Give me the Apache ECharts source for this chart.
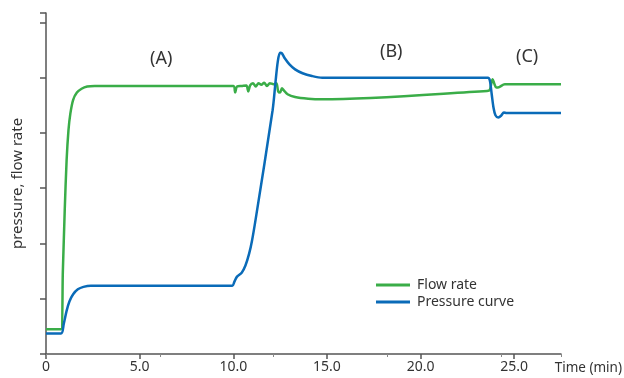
<!DOCTYPE html>
<html>
<head>
<meta charset="utf-8">
<script src="https://cdn.jsdelivr.net/npm/echarts@6/dist/echarts.min.js"></script>
<style>
  html, body { margin: 0; padding: 0; background: #fff; }
  #chart { width: 624px; height: 378px; }
</style>
</head>
<body>
<div id="chart"></div>
<script>
// time axis (min)
var xTicks = ['0', '5.0', '10.0', '15.0', '20.0', '25.0'];

// flow rate trace
var flowTime = [0, 0.8, 0.9, 1.0, 1.1, 1.2, 1.3, 1.45, 1.65, 1.9, 2.2, 2.6,
    10.0, 10.1, 10.2, 10.45, 10.7, 10.8, 10.9, 11.05, 11.2, 11.35, 11.5, 11.65, 11.8, 11.95, 12.15, 12.3,
    12.4, 12.5, 12.6, 12.7, 12.9, 13.3, 14.0, 14.75,
    23.55, 23.7, 23.78, 23.85, 23.95, 24.05, 24.2, 24.5, 27.5];
var flowVal = [0.45, 0.45, 1.5, 2.6, 3.5, 4.05, 4.35, 4.6, 4.73, 4.8, 4.84, 4.85,
    4.85, 4.73, 4.84, 4.85, 4.86, 4.75, 4.86, 4.9, 4.84, 4.9, 4.87, 4.91, 4.85, 4.9, 4.88, 4.9,
    4.75, 4.73, 4.81, 4.77, 4.7, 4.65, 4.62, 4.61,
    4.76, 4.78, 4.9, 4.97, 4.88, 4.82, 4.83, 4.88, 4.88];

// pressure trace
var pressTime = [0, 0.8, 0.95, 1.1, 1.25, 1.45, 1.7, 2.0, 2.4,
    9.95, 10.05, 10.2, 10.45, 10.65, 10.85, 11.0, 11.2, 12.1, 12.25, 12.38, 12.5, 12.6, 12.75,
    13.0, 13.3, 13.7, 14.2, 14.75,
    23.6, 23.7, 23.8, 23.9, 24.0, 24.15, 24.3, 24.45, 24.6, 27.5];
var pressVal = [0.37, 0.37, 0.55, 0.78, 0.95, 1.08, 1.17, 1.215, 1.235,
    1.235, 1.3, 1.40, 1.47, 1.6, 1.82, 2.05, 2.45, 4.41, 4.9, 5.3, 5.45, 5.44, 5.35,
    5.24, 5.15, 5.08, 5.03, 5.0,
    5.0, 4.95, 4.7, 4.45, 4.32, 4.28, 4.31, 4.37, 4.36, 4.36];

var green = '#3aad48';
var blue = '#0a6bb8';
var font = 'Noto Sans';

function zip(a, b) {
    return a.map(function (v, i) { return [v, b[i]]; });
}

var chart = echarts.init(document.getElementById('chart'));
chart.setOption({
    animation: false,
    grid: { left: 46, right: 63, top: 13, bottom: 24 },
    xAxis: [
        {
            type: 'value',
            min: 0,
            max: 27.5,
            interval: 5,
            axisLine: { onZero: false, lineStyle: { color: '#555', width: 1.5 } },
            axisTick: { length: 5, lineStyle: { color: '#555', width: 1.5 } },
            axisLabel: {
                color: '#333', fontSize: 14, fontFamily: font, margin: 6,
                showMaxLabel: false,
                formatter: function (v) { return xTicks[Math.round(v / 5)] || ''; }
            },
            splitLine: { show: false }
        },
        {
            type: 'value',
            position: 'bottom',
            min: 0,
            max: 27.5,
            interval: 6.08,
            axisLine: { show: false },
            axisTick: { length: 3, lineStyle: { color: '#888', width: 1 } },
            axisLabel: { show: false },
            splitLine: { show: false }
        }
    ],
    yAxis: {
        type: 'value',
        min: 0,
        max: 6.17,
        interval: 1,
        name: 'pressure, flow rate',
        nameLocation: 'middle',
        nameGap: 21,
        nameTextStyle: { color: '#333', fontSize: 15, fontFamily: font },
        axisLine: { show: true, lineStyle: { color: '#555', width: 1.5 } },
        axisTick: { show: true, length: 6, lineStyle: { color: '#555', width: 1.5 } },
        axisLabel: { show: false },
        splitLine: { show: false }
    },
    legend: {
        orient: 'vertical',
        left: 371,
        top: 273,
        itemWidth: 34,
        itemHeight: 3,
        itemGap: 3,
        icon: 'rect',
        textStyle: { color: '#333', fontSize: 14, fontFamily: font, padding: [0, 0, 0, 2] },
        data: ['Flow rate', 'Pressure curve']
    },
    graphic: [
        { type: 'text', left: 150, top: 50, style: { text: '(A)', fill: '#333', font: '18px "Noto Sans"' } },
        { type: 'text', left: 380, top: 43, style: { text: '(B)', fill: '#333', font: '18px "Noto Sans"' } },
        { type: 'text', left: 516, top: 48, style: { text: '(C)', fill: '#333', font: '18px "Noto Sans"' } },
        { type: 'text', right: 2, top: 361, style: { text: 'Time (min)', fill: '#333', font: '13.5px "Noto Sans"' } }
    ],
    series: [
        {
            name: 'Flow rate',
            type: 'line',
            data: zip(flowTime, flowVal),
            showSymbol: false,
            smooth: 0.3,
            lineStyle: { color: green, width: 2.5 },
            itemStyle: { color: green }
        },
        {
            name: 'Pressure curve',
            type: 'line',
            data: zip(pressTime, pressVal),
            showSymbol: false,
            smooth: 0.3,
            lineStyle: { color: blue, width: 2.5 },
            itemStyle: { color: blue }
        }
    ]
});
</script>
</body>
</html>
